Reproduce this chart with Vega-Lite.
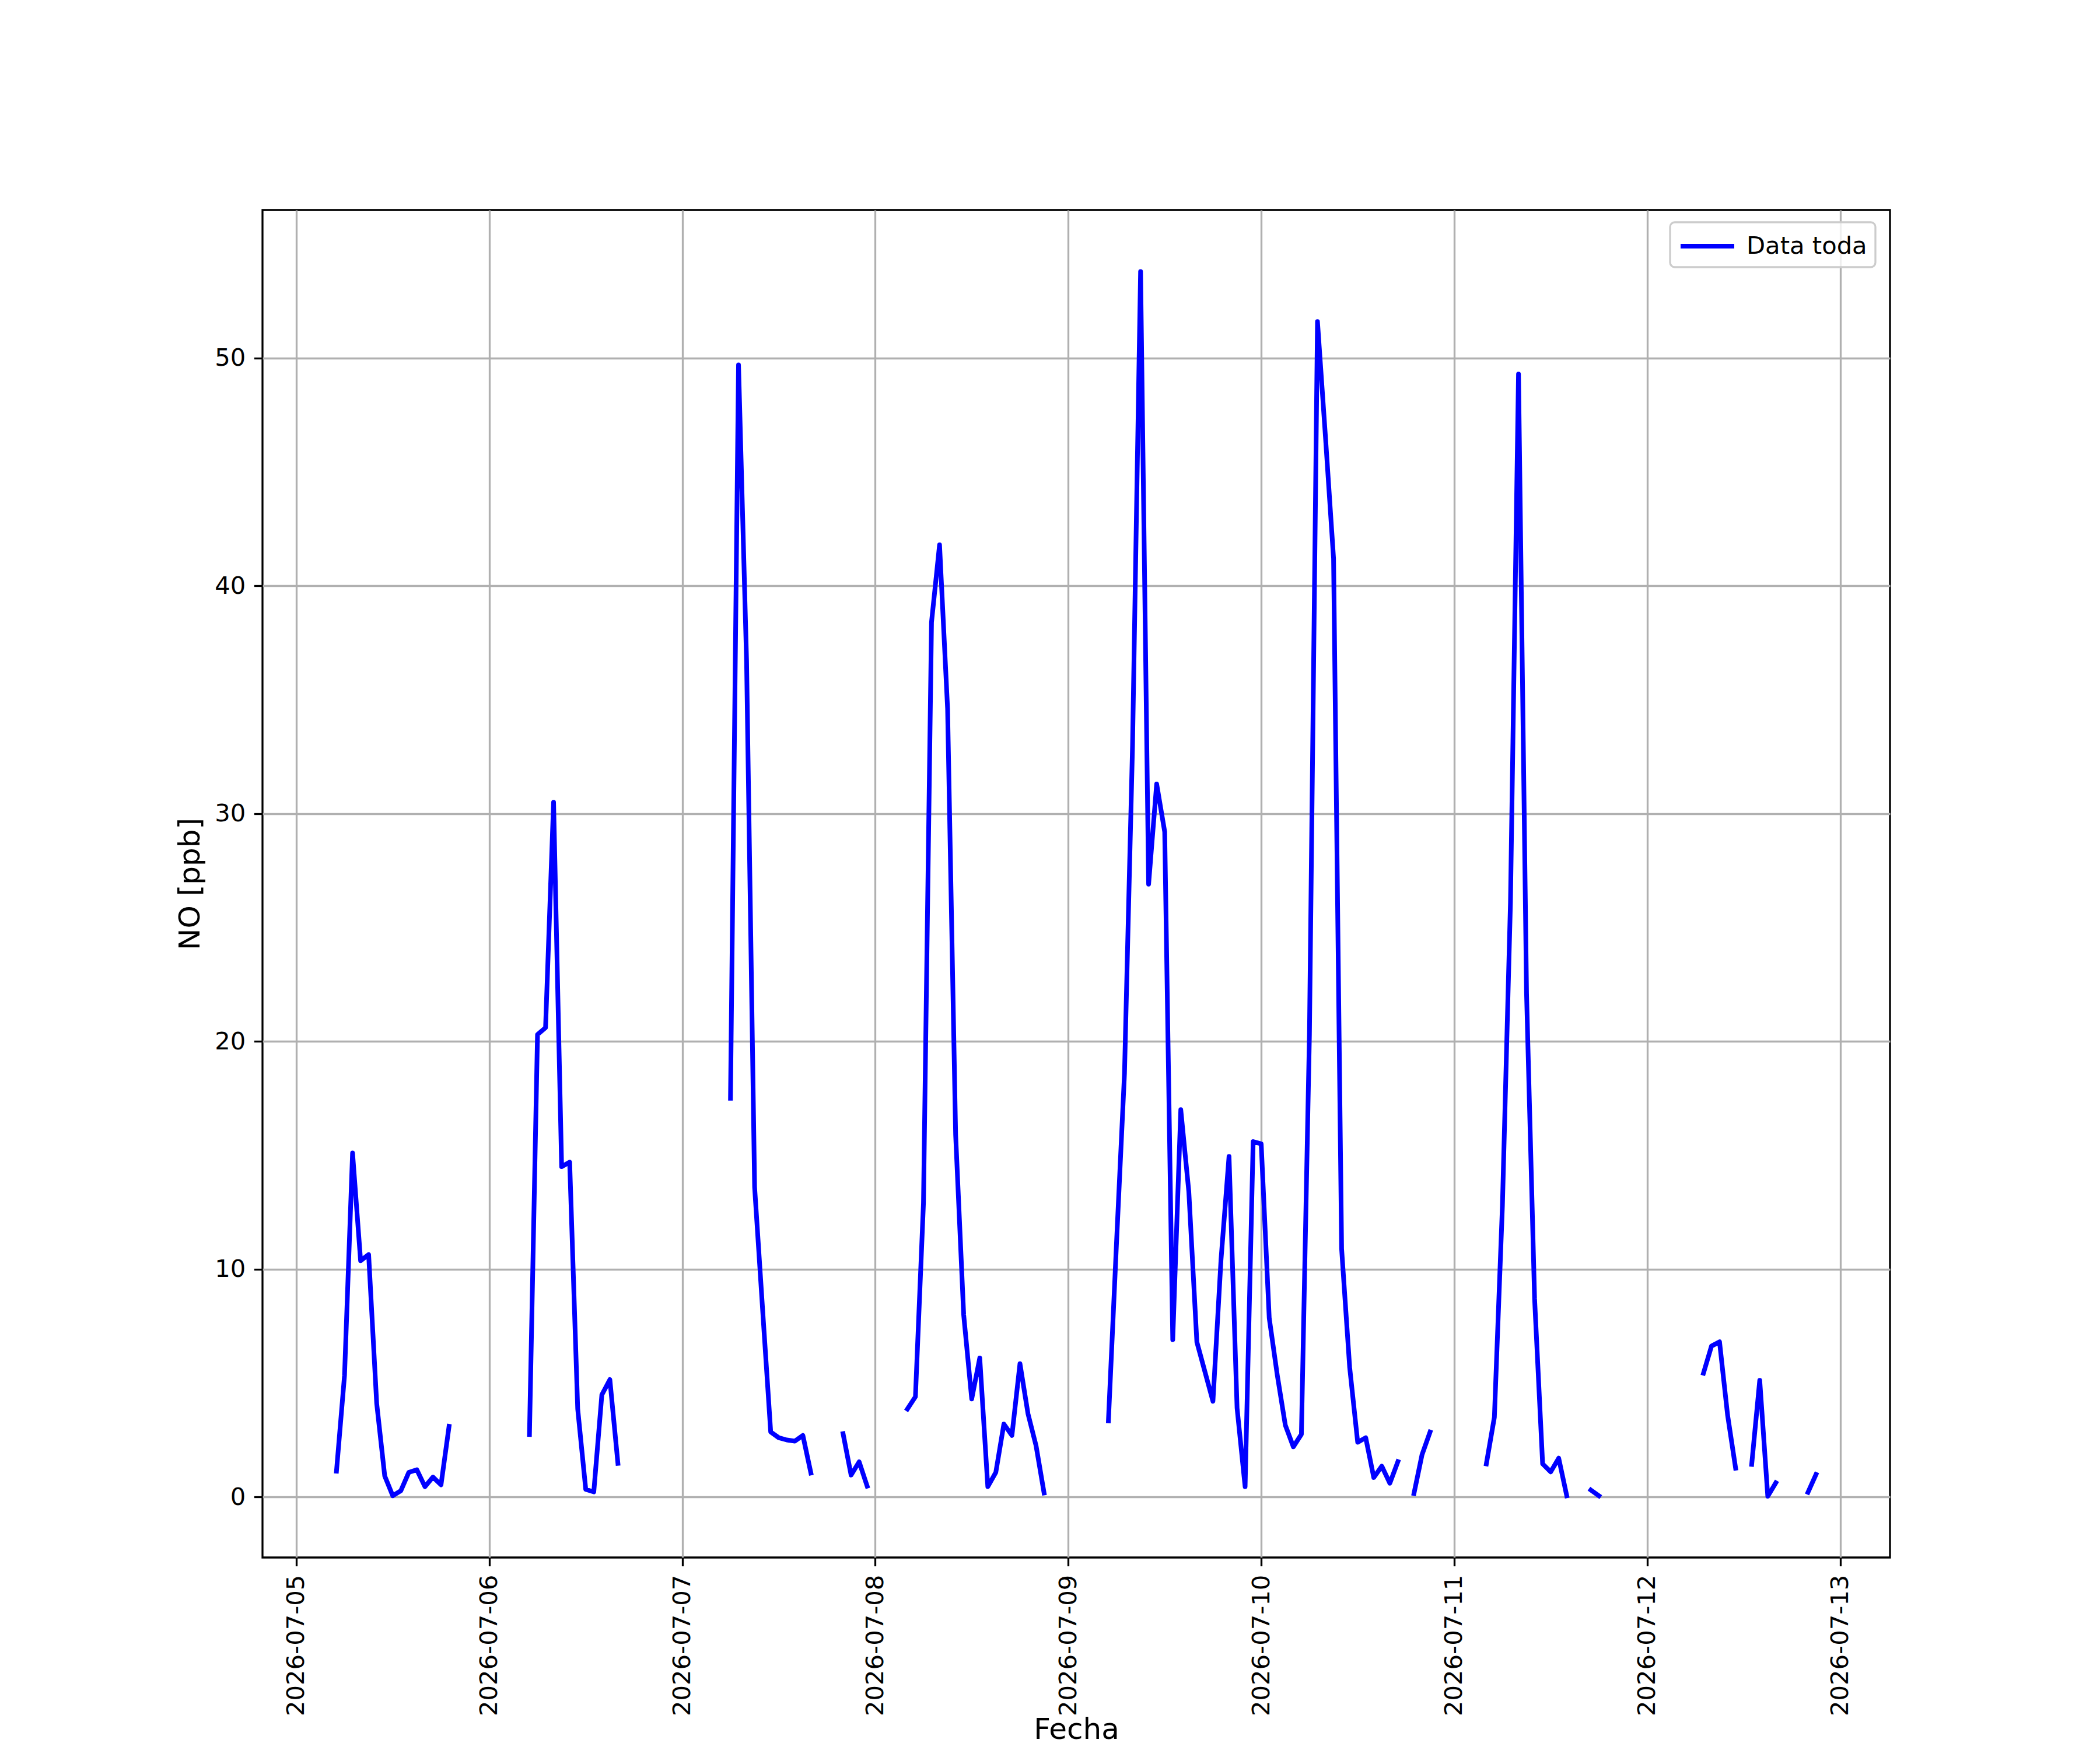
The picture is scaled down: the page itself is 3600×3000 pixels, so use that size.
{
  "$schema": "https://vega.github.io/schema/vega-lite/v6.json",
  "width": 2790,
  "height": 2310,
  "autosize": {"type": "none"},
  "padding": {"left": 450, "top": 360, "right": 360, "bottom": 330},
  "background": "white",
  "config": {
    "font": "DejaVu Sans",
    "view": {"stroke": "black", "strokeWidth": 3.3},
    "axis": {
      "labelFont": "DejaVu Sans",
      "labelFontSize": 41.7,
      "labelColor": "black",
      "labelLimit": 0,
      "titleFont": "DejaVu Sans",
      "titleFontSize": 50,
      "titleFontWeight": "normal",
      "titleColor": "black",
      "tickColor": "black",
      "tickWidth": 3.3,
      "tickSize": 14.6,
      "labelPadding": 14.6,
      "titlePadding": 16.7,
      "domain": false,
      "grid": true,
      "gridColor": "#b0b0b0",
      "gridWidth": 3.3,
      "labelFlush": false,
      "labelOverlap": false
    },
    "legend": {"strokeWidth": 3.3}
  },
  "data": {
    "values": [
      {"t": "2026-07-05T05:00", "no": 1.13},
      {"t": "2026-07-05T06:00", "no": 5.33},
      {"t": "2026-07-05T07:00", "no": 15.1},
      {"t": "2026-07-05T08:00", "no": 10.37},
      {"t": "2026-07-05T09:00", "no": 10.64},
      {"t": "2026-07-05T10:00", "no": 4.11},
      {"t": "2026-07-05T11:00", "no": 0.92},
      {"t": "2026-07-05T12:00", "no": 0.05},
      {"t": "2026-07-05T13:00", "no": 0.27},
      {"t": "2026-07-05T14:00", "no": 1.08},
      {"t": "2026-07-05T15:00", "no": 1.19},
      {"t": "2026-07-05T16:00", "no": 0.45},
      {"t": "2026-07-05T17:00", "no": 0.87},
      {"t": "2026-07-05T18:00", "no": 0.53},
      {"t": "2026-07-05T19:00", "no": 3.1},
      {"t": "2026-07-05T20:00", "no": null},
      {"t": "2026-07-06T04:00", "no": null},
      {"t": "2026-07-06T05:00", "no": 2.74},
      {"t": "2026-07-06T06:00", "no": 20.3},
      {"t": "2026-07-06T07:00", "no": 20.6},
      {"t": "2026-07-06T08:00", "no": 30.5},
      {"t": "2026-07-06T09:00", "no": 14.5},
      {"t": "2026-07-06T10:00", "no": 14.7},
      {"t": "2026-07-06T11:00", "no": 3.86},
      {"t": "2026-07-06T12:00", "no": 0.33},
      {"t": "2026-07-06T13:00", "no": 0.22},
      {"t": "2026-07-06T14:00", "no": 4.48},
      {"t": "2026-07-06T15:00", "no": 5.15},
      {"t": "2026-07-06T16:00", "no": 1.47},
      {"t": "2026-07-06T17:00", "no": null},
      {"t": "2026-07-07T05:00", "no": null},
      {"t": "2026-07-07T06:00", "no": 17.5},
      {"t": "2026-07-07T07:00", "no": 49.7},
      {"t": "2026-07-07T08:00", "no": 36.7},
      {"t": "2026-07-07T09:00", "no": 13.6},
      {"t": "2026-07-07T10:00", "no": 8.2},
      {"t": "2026-07-07T11:00", "no": 2.85},
      {"t": "2026-07-07T12:00", "no": 2.6},
      {"t": "2026-07-07T13:00", "no": 2.5},
      {"t": "2026-07-07T14:00", "no": 2.45},
      {"t": "2026-07-07T15:00", "no": 2.7},
      {"t": "2026-07-07T16:00", "no": 1.05},
      {"t": "2026-07-07T17:00", "no": null},
      {"t": "2026-07-07T19:00", "no": null},
      {"t": "2026-07-07T20:00", "no": 2.78},
      {"t": "2026-07-07T21:00", "no": 0.96},
      {"t": "2026-07-07T22:00", "no": 1.54},
      {"t": "2026-07-07T23:00", "no": 0.47},
      {"t": "2026-07-08T00:00", "no": null},
      {"t": "2026-07-08T03:00", "no": null},
      {"t": "2026-07-08T04:00", "no": 3.86},
      {"t": "2026-07-08T05:00", "no": 4.4},
      {"t": "2026-07-08T06:00", "no": 12.9},
      {"t": "2026-07-08T07:00", "no": 38.4},
      {"t": "2026-07-08T08:00", "no": 41.8},
      {"t": "2026-07-08T09:00", "no": 34.6},
      {"t": "2026-07-08T10:00", "no": 15.9},
      {"t": "2026-07-08T11:00", "no": 8.0},
      {"t": "2026-07-08T12:00", "no": 4.3},
      {"t": "2026-07-08T13:00", "no": 6.1},
      {"t": "2026-07-08T14:00", "no": 0.45},
      {"t": "2026-07-08T15:00", "no": 1.08},
      {"t": "2026-07-08T16:00", "no": 3.2},
      {"t": "2026-07-08T17:00", "no": 2.7},
      {"t": "2026-07-08T18:00", "no": 5.85},
      {"t": "2026-07-08T19:00", "no": 3.65},
      {"t": "2026-07-08T20:00", "no": 2.25},
      {"t": "2026-07-08T21:00", "no": 0.17},
      {"t": "2026-07-08T22:00", "no": null},
      {"t": "2026-07-09T04:00", "no": null},
      {"t": "2026-07-09T05:00", "no": 3.34},
      {"t": "2026-07-09T06:00", "no": 11.1},
      {"t": "2026-07-09T07:00", "no": 18.6},
      {"t": "2026-07-09T08:00", "no": 33.0},
      {"t": "2026-07-09T09:00", "no": 53.8},
      {"t": "2026-07-09T10:00", "no": 26.9},
      {"t": "2026-07-09T11:00", "no": 31.3},
      {"t": "2026-07-09T12:00", "no": 29.2},
      {"t": "2026-07-09T13:00", "no": 6.9},
      {"t": "2026-07-09T14:00", "no": 17.0},
      {"t": "2026-07-09T15:00", "no": 13.4},
      {"t": "2026-07-09T16:00", "no": 6.8},
      {"t": "2026-07-09T17:00", "no": 5.5},
      {"t": "2026-07-09T18:00", "no": 4.2},
      {"t": "2026-07-09T19:00", "no": 10.4},
      {"t": "2026-07-09T20:00", "no": 14.95},
      {"t": "2026-07-09T21:00", "no": 3.9},
      {"t": "2026-07-09T22:00", "no": 0.45},
      {"t": "2026-07-09T23:00", "no": 15.6},
      {"t": "2026-07-10T00:00", "no": 15.5},
      {"t": "2026-07-10T01:00", "no": 7.85},
      {"t": "2026-07-10T02:00", "no": 5.35},
      {"t": "2026-07-10T03:00", "no": 3.15},
      {"t": "2026-07-10T04:00", "no": 2.2},
      {"t": "2026-07-10T05:00", "no": 2.75},
      {"t": "2026-07-10T06:00", "no": 20.3},
      {"t": "2026-07-10T07:00", "no": 51.6},
      {"t": "2026-07-10T08:00", "no": 46.5},
      {"t": "2026-07-10T09:00", "no": 41.2},
      {"t": "2026-07-10T10:00", "no": 10.9},
      {"t": "2026-07-10T11:00", "no": 5.7},
      {"t": "2026-07-10T12:00", "no": 2.4},
      {"t": "2026-07-10T13:00", "no": 2.6},
      {"t": "2026-07-10T14:00", "no": 0.85},
      {"t": "2026-07-10T15:00", "no": 1.35},
      {"t": "2026-07-10T16:00", "no": 0.6},
      {"t": "2026-07-10T17:00", "no": 1.55},
      {"t": "2026-07-10T18:00", "no": null},
      {"t": "2026-07-10T19:00", "no": 0.15},
      {"t": "2026-07-10T20:00", "no": 1.85},
      {"t": "2026-07-10T21:00", "no": 2.85},
      {"t": "2026-07-10T22:00", "no": null},
      {"t": "2026-07-11T03:00", "no": null},
      {"t": "2026-07-11T04:00", "no": 1.45},
      {"t": "2026-07-11T05:00", "no": 3.5},
      {"t": "2026-07-11T06:00", "no": 12.8},
      {"t": "2026-07-11T07:00", "no": 26.1},
      {"t": "2026-07-11T08:00", "no": 49.3},
      {"t": "2026-07-11T09:00", "no": 22.1},
      {"t": "2026-07-11T10:00", "no": 8.7},
      {"t": "2026-07-11T11:00", "no": 1.45},
      {"t": "2026-07-11T12:00", "no": 1.1},
      {"t": "2026-07-11T13:00", "no": 1.7},
      {"t": "2026-07-11T14:00", "no": 0.05},
      {"t": "2026-07-11T15:00", "no": null},
      {"t": "2026-07-11T16:00", "no": null},
      {"t": "2026-07-11T17:00", "no": 0.3},
      {"t": "2026-07-11T18:00", "no": 0.05},
      {"t": "2026-07-11T19:00", "no": null},
      {"t": "2026-07-12T06:00", "no": null},
      {"t": "2026-07-12T07:00", "no": 5.43},
      {"t": "2026-07-12T08:00", "no": 6.62},
      {"t": "2026-07-12T09:00", "no": 6.81},
      {"t": "2026-07-12T10:00", "no": 3.6},
      {"t": "2026-07-12T11:00", "no": 1.26},
      {"t": "2026-07-12T12:00", "no": null},
      {"t": "2026-07-12T13:00", "no": 1.43},
      {"t": "2026-07-12T14:00", "no": 5.12},
      {"t": "2026-07-12T15:00", "no": 0.03},
      {"t": "2026-07-12T16:00", "no": 0.62},
      {"t": "2026-07-12T17:00", "no": null},
      {"t": "2026-07-12T19:00", "no": null},
      {"t": "2026-07-12T20:00", "no": 0.2},
      {"t": "2026-07-12T21:00", "no": 0.99}
    ]
  },
  "mark": {
    "type": "line",
    "strokeWidth": 8,
    "strokeCap": "square",
    "strokeJoin": "round",
    "invalid": "break-paths-show-domains"
  },
  "encoding": {
    "x": {
      "field": "t",
      "type": "temporal",
      "scale": {
        "domain": [
          {"year": 2026, "month": 7, "date": 4, "hours": 19, "minutes": 48},
          {"year": 2026, "month": 7, "date": 13, "hours": 6, "minutes": 12}
        ],
        "nice": false
      },
      "axis": {
        "title": "Fecha",
        "format": "%Y-%m-%d",
        "tickCount": {"interval": "day", "step": 1},
        "labelAngle": 270,
        "titlePadding": 70
      }
    },
    "y": {
      "field": "no",
      "type": "quantitative",
      "scale": {"domain": [-2.66, 56.5], "nice": false, "zero": false},
      "axis": {"title": "NO [ppb]", "values": [0, 10, 20, 30, 40, 50]}
    },
    "color": {
      "datum": "Data toda",
      "type": "nominal",
      "scale": {"range": ["#0000ff"]},
      "legend": {
        "title": null,
        "orient": "none",
        "legendX": 2413,
        "legendY": 21,
        "symbolType": "M-2,0H2",
        "symbolSize": 2116,
        "symbolOffset": 23,
        "symbolStrokeWidth": 8,
        "labelFont": "DejaVu Sans",
        "labelFontSize": 41.7,
        "labelColor": "black",
        "labelLimit": 0,
        "labelOffset": 40,
        "padding": 14,
        "strokeColor": "#cccccc",
        "fillColor": "rgba(255,255,255,0.8)",
        "cornerRadius": 8
      }
    }
  }
}
